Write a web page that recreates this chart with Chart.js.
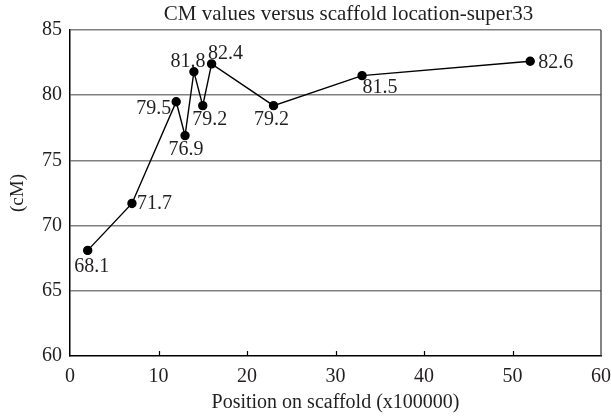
<!DOCTYPE html>
<html>
<head>
<meta charset="utf-8">
<script src="https://cdn.jsdelivr.net/npm/chart.js@4/dist/chart.umd.min.js"></script>
<style>
  html, body { margin: 0; padding: 0; background: #fff; }
  #wrap { width: 611px; height: 420px; position: relative; }
</style>
</head>
<body>
<div id="wrap"><canvas id="cmChart"></canvas></div>
<script>
// scaffold positions (x100000) and CM values
const positions = [2, 7, 12, 13, 14, 15, 16, 23, 33, 52];
const cmValues = [68.1, 71.7, 79.5, 76.9, 81.8, 79.2, 82.4, 79.2, 81.5, 82.6];
const xTickValues = [0, 10, 20, 30, 40, 50, 60];
const yTickValues = [60, 65, 70, 75, 80, 85];

const chartTitle = 'CM values versus scaffold location-super33';
const xTitle = 'Position on scaffold (x100000)';
const yTitle = '(cM)';

const TEXT = '#231f20';
const GRID = '#808080';
const FONT = "'Liberation Serif', 'DejaVu Serif', serif";

// where each value label sits relative to its point: [dx, dy, align]
const labelSpots = [
  [4, 16, 'center'],   // 68.1
  [5, 0, 'left'],      // 71.7
  [-5, 7, 'right'],    // 79.5
  [1, 14, 'center'],   // 76.9
  [-6, -10, 'center'], // 81.8
  [7, 14, 'center'],   // 79.2
  [14, -10, 'center'], // 82.4
  [-2, 14, 'center'],  // 79.2
  [18, 12, 'center'],  // 81.5
  [8, 1, 'left'],      // 82.6
];

const extras = {
  id: 'extras',
  afterDraw(chart) {
    const { ctx, chartArea: a, scales: { x } } = chart;
    ctx.save();

    // right frame edge
    ctx.strokeStyle = '#333';
    ctx.lineWidth = 1.2;
    ctx.beginPath();
    ctx.moveTo(a.right, a.top);
    ctx.lineTo(a.right, a.bottom);
    ctx.stroke();

    // inner tick marks on the x axis
    ctx.strokeStyle = '#000';
    xTickValues.slice(1, -1).forEach(v => {
      const px = Math.round(x.getPixelForValue(v)) + 0.5;
      ctx.beginPath();
      ctx.moveTo(px, a.bottom);
      ctx.lineTo(px, a.bottom - 5);
      ctx.stroke();
    });

    // title
    ctx.fillStyle = TEXT;
    ctx.font = '21px ' + FONT;
    ctx.textAlign = 'center';
    ctx.textBaseline = 'middle';
    ctx.fillText(chartTitle, (a.left + a.right) / 2 + 13, 14);

    // value labels
    ctx.font = '20px ' + FONT;
    const meta = chart.getDatasetMeta(0);
    meta.data.forEach((pt, i) => {
      const [dx, dy, align] = labelSpots[i];
      ctx.textAlign = align;
      ctx.fillText(cmValues[i].toFixed(1), pt.x + dx, pt.y + dy);
    });
    ctx.restore();
  },
};

new Chart(document.getElementById('cmChart'), {
  type: 'scatter',
  data: {
    datasets: [{
      data: positions.map((p, i) => ({ x: p, y: cmValues[i] })),
      showLine: true,
      borderColor: '#000',
      borderWidth: 1.4,
      backgroundColor: '#000',
      pointRadius: 4,
      pointHoverRadius: 4,
      tension: 0,
    }],
  },
  options: {
    responsive: true,
    maintainAspectRatio: false,
    animation: false,
    layout: { padding: { top: 30, right: 0, left: 0, bottom: 0 } },
    plugins: {
      legend: { display: false },
      tooltip: { enabled: false },
    },
    scales: {
      x: {
        type: 'linear',
        min: 0,
        max: 60,
        afterBuildTicks: (s) => { s.ticks = xTickValues.map(v => ({ value: v })); },
        afterFit: (s) => { s.height = 64; },
        grid: { display: false, drawTicks: true, tickLength: 9 },
        border: { color: '#000', width: 1.5 },
        ticks: { color: TEXT, font: { family: FONT, size: 20 }, padding: 0, maxRotation: 0 },
        title: {
          display: true,
          text: xTitle,
          color: TEXT,
          font: { family: FONT, size: 20 },
          padding: { top: 0, bottom: 5 },
        },
      },
      y: {
        type: 'linear',
        min: 60,
        max: 85,
        afterBuildTicks: (s) => { s.ticks = yTickValues.map(v => ({ value: v })); },
        afterFit: (s) => { s.width = 70; },
        grid: {
          drawTicks: false,
          color: (c) => (c.tick && c.tick.value === 60 ? 'rgba(0,0,0,0)' : GRID),
          lineWidth: 1.5,
        },
        border: { color: '#000', width: 1.5 },
        ticks: { color: TEXT, font: { family: FONT, size: 20 }, padding: 8 },
        title: {
          display: true,
          text: yTitle,
          color: TEXT,
          font: { family: FONT, size: 19 },
          padding: { top: 7, bottom: 0 },
        },
      },
    },
  },
  plugins: [extras],
});
</script>
</body>
</html>
